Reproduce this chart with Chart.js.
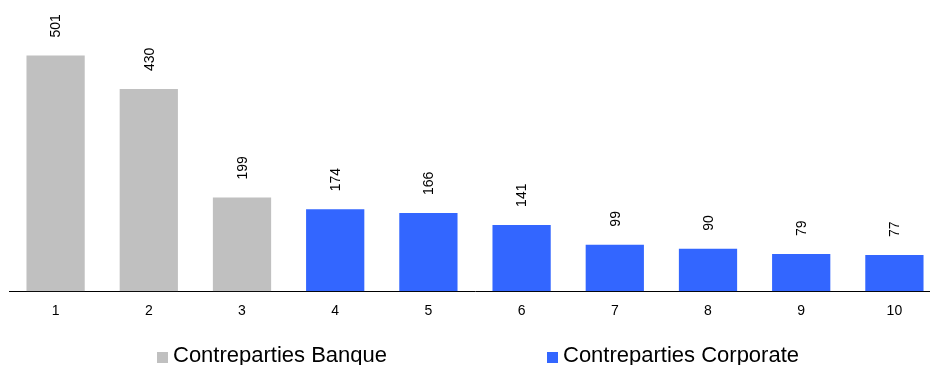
<!DOCTYPE html>
<html>
<head>
<meta charset="utf-8">
<script src="https://cdn.jsdelivr.net/npm/chart.js@4/dist/chart.umd.min.js"></script>
<style>
  html, body { margin: 0; padding: 0; background: #fff; overflow: hidden; }
  #wrap { width: 942px; height: 365px; position: relative; }
</style>
</head>
<body>
<div id="wrap"><canvas id="c"></canvas></div>
<script>
const categories = ['1', '2', '3', '4', '5', '6', '7', '8', '9', '10'];
const banque = [501, 430, 199, null, null, null, null, null, null, null];
const corporate = [null, null, null, 174, 166, 141, 99, 90, 79, 77];
const seriesNames = ['Contreparties Banque', 'Contreparties Corporate'];
const seriesColors = ['#C0C0C0', '#3366FF'];

const FONT = '"Liberation Sans", Arial, sans-serif';

// Vertical value labels above every bar
const valueLabels = {
  id: 'valueLabels',
  afterDatasetsDraw(chart) {
    const ctx = chart.ctx;
    ctx.save();
    ctx.font = '14px ' + FONT;
    ctx.fillStyle = '#000';
    ctx.textAlign = 'left';
    ctx.textBaseline = 'middle';
    chart.data.datasets.forEach((ds, di) => {
      chart.getDatasetMeta(di).data.forEach((bar, i) => {
        const v = ds.data[i];
        if (v === null || v === undefined) return;
        ctx.save();
        ctx.translate(bar.x + 1, bar.y - 18);
        ctx.rotate(-Math.PI / 2);
        ctx.fillText(String(v), 0, 0);
        ctx.restore();
      });
    });
    ctx.restore();
  }
};

// Legend row along the bottom edge
const bottomLegend = {
  id: 'bottomLegend',
  afterDraw(chart, args, opts) {
    const ctx = chart.ctx;
    ctx.save();
    ctx.font = '22px ' + FONT;
    ctx.textAlign = 'left';
    ctx.textBaseline = 'alphabetic';
    chart.data.datasets.forEach((ds, i) => {
      const x = opts.x[i];
      const base = opts.baseline;
      ctx.fillStyle = ds.backgroundColor;
      ctx.fillRect(x, base - 10, 11, 11);
      ctx.fillStyle = '#000';
      ctx.fillText(ds.label, x + 16, base);
    });
    ctx.restore();
  }
};

new Chart(document.getElementById('c'), {
  type: 'bar',
  data: {
    labels: categories,
    datasets: [
      { label: seriesNames[0], data: banque, backgroundColor: seriesColors[0] },
      { label: seriesNames[1], data: corporate, backgroundColor: seriesColors[1] }
    ]
  },
  options: {
    responsive: true,
    maintainAspectRatio: false,
    animation: false,
    datasets: {
      bar: { grouped: false, barPercentage: 1, categoryPercentage: 0.625 }
    },
    layout: { padding: { left: 9, right: 1, top: 9, bottom: 33 } },
    plugins: {
      legend: { display: false },
      tooltip: { enabled: false },
      bottomLegend: { x: [157, 547], baseline: 362 }
    },
    scales: {
      x: {
        grid: { display: false, drawTicks: false },
        border: { display: true, color: '#000', width: 1 },
        ticks: { color: '#000', font: { family: FONT, size: 14 }, padding: 12, maxRotation: 0 }
      },
      y: {
        display: false,
        min: 0,
        max: 600
      }
    }
  },
  plugins: [valueLabels, bottomLegend]
});
</script>
</body>
</html>
